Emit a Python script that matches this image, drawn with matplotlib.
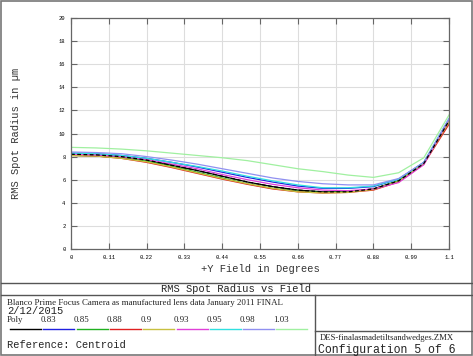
import matplotlib
matplotlib.use("Agg")
import matplotlib.pyplot as plt
from matplotlib.lines import Line2D
import numpy as np

# field samples (16 points, 0 .. 1.1 deg)
field = [i * 1.1 / 15 for i in range(16)]

labels = ["Poly", "0.83", "0.85", "0.88", "0.9", "0.93", "0.95", "0.98", "1.03"]
colors = ["#000000", "#2020e0", "#20b020", "#e02020", "#c8c040",
          "#e040d8", "#30e0e0", "#9090f0", "#a0f0a0"]

poly   = [8.2, 8.15, 8.0, 7.7, 7.25, 6.8, 6.3, 5.8, 5.4, 5.1, 4.95, 4.95, 5.2, 5.9, 7.4, 11.1]
w083   = [8.3, 8.25, 8.1, 7.85, 7.5, 7.1, 6.65, 6.2, 5.8, 5.45, 5.25, 5.25, 5.4, 6.05, 7.5, 11.0]
w085   = [8.1, 8.05, 7.9, 7.6, 7.15, 6.65, 6.15, 5.65, 5.25, 5.0, 4.9, 4.95, 5.2, 5.9, 7.45, 11.1]
w088   = [8.1, 8.05, 7.85, 7.5, 7.05, 6.55, 6.05, 5.6, 5.2, 4.95, 4.85, 4.9, 5.1, 5.8, 7.35, 10.8]
w090   = [8.1, 8.05, 7.85, 7.55, 7.1, 6.6, 6.1, 5.65, 5.25, 4.95, 4.85, 4.9, 5.15, 5.85, 7.4, 11.0]
w093   = [8.2, 8.15, 8.0, 7.75, 7.35, 6.95, 6.45, 6.0, 5.6, 5.3, 5.1, 5.05, 5.2, 5.75, 7.3, 11.2]
w095   = [8.3, 8.25, 8.1, 7.85, 7.5, 7.15, 6.75, 6.3, 5.9, 5.55, 5.3, 5.3, 5.45, 6.05, 7.5, 11.3]
w098   = [8.4, 8.35, 8.25, 8.0, 7.7, 7.35, 6.95, 6.55, 6.15, 5.85, 5.65, 5.55, 5.55, 6.1, 7.5, 11.3]
w103   = [8.8, 8.75, 8.65, 8.5, 8.3, 8.1, 7.9, 7.65, 7.3, 6.95, 6.7, 6.4, 6.2, 6.6, 7.9, 11.6]
series = [poly, w083, w085, w088, w090, w093, w095, w098, w103]

xticks = [0, 0.11, 0.22, 0.33, 0.44, 0.55, 0.66, 0.77, 0.88, 0.99, 1.1]
xticklabels = ["0", "0.11", "0.22", "0.33", "0.44", "0.55", "0.66", "0.77", "0.88", "0.99", "1.1"]
yticks = list(range(0, 21, 2))

W, H = 473, 356
MONO = "Liberation Mono"
SERIF = "Liberation Serif"

fig = plt.figure(figsize=(W / 100, H / 100), dpi=100)


def fx(px):
    return px / W


def fy(py):
    return 1 - py / H


def hline(y, x0, x1, c="#555555", lw=1.0):
    fig.add_artist(Line2D([fx(x0), fx(x1)], [fy(y), fy(y)], color=c, lw=lw))


def vline(x, y0, y1, c="#555555", lw=1.0):
    fig.add_artist(Line2D([fx(x), fx(x)], [fy(y0), fy(y1)], color=c, lw=lw))


ax = fig.add_axes([fx(71), fy(249), fx(449) - fx(71), fy(18) - fy(249)])
for s, c in zip(series, colors):
    ax.plot(field, s, color=c, lw=0.9)
# poly again on top, dashed as in the original
ax.plot(field, poly, color=colors[0], lw=0.9, dashes=(3, 2))

ax.set_xlim(0, 1.1)
ax.set_ylim(0, 20)
ax.set_xticks(xticks)
ax.set_xticklabels(xticklabels)
ax.set_yticks(yticks)
ax.tick_params(direction="in", length=4, width=0.8, color="#666666",
               labelsize=4, top=True, right=True, pad=4)
for lab in ax.get_xticklabels() + ax.get_yticklabels():
    lab.set_family(MONO)
ax.grid(True, color="#dddddd", lw=0.8)
for sp in ax.spines.values():
    sp.set_color("#666666")
    sp.set_linewidth(0.9)

fig.text(fx(260), fy(269), "+Y Field in Degrees", family=MONO, fontsize=7.5,
         ha="center", va="center", color="#333333")
fig.text(fx(16), fy(133), "RMS Spot Radius in \u00b5m", family=MONO, fontsize=7.5,
         rotation=90, ha="center", va="center", color="#333333")

# frame and title block
fig.add_artist(plt.Rectangle((fx(1), fy(354.5)), fx(471.5) - fx(1), fy(1) - fy(354.5),
                             fill=False, ec="#777777", lw=1.2))
hline(283, 1, 472)
hline(295, 1, 472)
vline(315, 295, 355)
hline(331, 315, 472)

fig.text(fx(236), fy(289), "RMS Spot Radius vs Field", family=MONO, fontsize=7.5,
         ha="center", va="center", color="#222222")
fig.text(fx(7), fy(303), "Blanco Prime Focus Camera as manufactured lens data January 2011 FINAL",
         family=SERIF, fontsize=6.4, ha="left", va="center", color="#222222")
fig.text(fx(7), fy(311.5), "2/12/2015", family=MONO, fontsize=7.5,
         ha="left", va="center", color="#222222")
for i, (lab, c) in enumerate(zip(labels, colors)):
    fig.text(fx(7 + 33.3 * i), fy(320.5), lab, family=SERIF, fontsize=6.4,
             ha="left", va="center", color="#222222")
    fig.add_artist(Line2D([fx(10 + 33.3 * i), fx(41 + 33.3 * i)], [fy(329), fy(329)],
                          color=c, lw=1.0))
fig.text(fx(7), fy(345.5), "Reference: Centroid", family=MONO, fontsize=7.5,
         ha="left", va="center", color="#222222")
fig.text(fx(320), fy(338.5), "DES-finalasmadetiltsandwedges.ZMX", family=SERIF, fontsize=6.2,
         ha="left", va="center", color="#222222")
fig.text(fx(318), fy(349.5), "Configuration 5 of 6", family=MONO, fontsize=8.3,
         ha="left", va="center", color="#222222")

fig.savefig("out.png", dpi=100, facecolor="white")
